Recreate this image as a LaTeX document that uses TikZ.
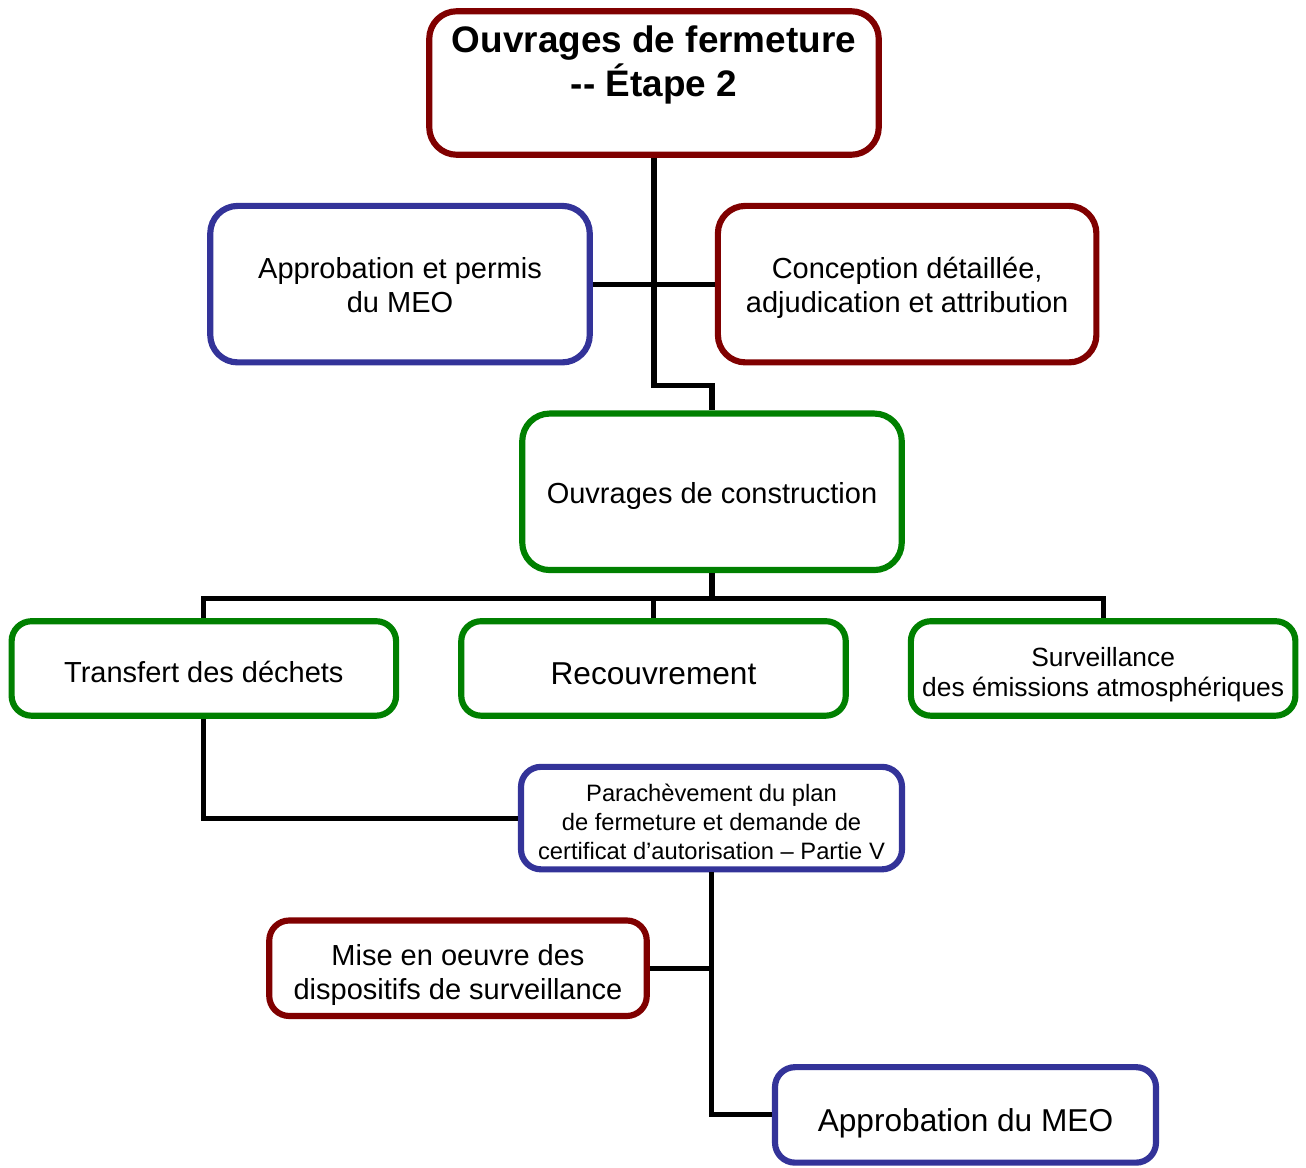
\documentclass[tikz,border=0pt]{standalone}
\usepackage{fontspec}
\setmainfont{Liberation Sans}
\usetikzlibrary{positioning}
\definecolor{darkred}{RGB}{128,0,0}
\definecolor{meoblue}{RGB}{51,51,153}
\definecolor{okgreen}{RGB}{0,128,0}
\tikzset{redbox/.style={rectangle,rounded corners=0.4cm,draw=darkred,fill=white,line width=3.5pt,align=center,execute at begin node=\rule{0pt}{1em}}}
\tikzset{bluebox/.style={rectangle,rounded corners=0.4cm,draw=meoblue,fill=white,line width=3.5pt,align=center,execute at begin node=\rule{0pt}{1em}}}
\tikzset{greenbox/.style={rectangle,rounded corners=0.4cm,draw=okgreen,fill=white,line width=3.5pt,align=center,execute at begin node=\rule{0pt}{1em}}}
\tikzset{link/.style={line width=2.9pt}}

\begin{document}
\begin{tikzpicture}[node distance=0.9cm,font=\fontsize{16.5}{19.3}\selectfont]
\useasboundingbox (0,0) rectangle (26.12,-23.36);
	\node (top) [redbox, execute at begin node=, rounded corners=0.55cm, minimum width=8.99cm, minimum height=2.87cm, font=\bfseries\fontsize{21}{25}\selectfont] at (13.08,-1.66) {Ouvrages de fermeture\\-{}- Étape 2\\\mbox{}};
	\node (appr) [bluebox, rounded corners=0.55cm, minimum width=7.59cm, minimum height=3.13cm, below=of top, xshift=-5.08cm] {\rule{0pt}{0.82em}Approbation et permis\\du MEO};
	\node (concep) [redbox, rounded corners=0.55cm, minimum width=7.57cm, minimum height=3.13cm, right=2.44cm of appr] {\rule{0pt}{1em}Conception détaillée,\\adjudication et attribution} edge [link] (appr);
	\node (constr) [greenbox, rounded corners=0.55cm, minimum width=7.59cm, minimum height=3.13cm, below=of appr, xshift=6.24cm] {Ouvrages de construction};
	\node (recouv) [greenbox, minimum width=7.69cm, minimum height=1.89cm, below=of constr, xshift=-1.17cm, font=\fontsize{18}{21}\selectfont] {Recouvrement};
	\node (transf) [greenbox, minimum width=7.69cm, minimum height=1.89cm, left=1.18cm of recouv] {Transfert des déchets};
	\node (surv) [greenbox, minimum width=7.69cm, minimum height=1.89cm, inner sep=1pt, right=1.18cm of recouv, font=\fontsize{15}{17.5}\selectfont] {\rule{0pt}{1.2em}Surveillance\\des émissions atmosphériques};
	\node (parach) [bluebox, minimum width=7.62cm, minimum height=2.05cm, inner sep=2pt, below=of recouv, xshift=1.16cm, font=\fontsize{13.5}{16.4}\selectfont] {\rule{0pt}{1.08em}Parachèvement du plan\\de fermeture et demande de\\certificat d’autorisation – Partie V};
	\node (mise) [redbox, minimum width=7.55cm, minimum height=1.91cm, below=of parach, xshift=-5.07cm] {\rule{0pt}{1.2em}Mise en oeuvre des\\dispositifs de surveillance};
	\node (apprmeo) [bluebox, execute at begin node=\rule{0pt}{1.25em}, minimum width=7.62cm, minimum height=1.91cm, below=of mise, xshift=10.15cm, font=\fontsize{18}{21}\selectfont] {Approbation du MEO};

	\draw [link] (top.south) -- ++(0,-4.56) -| (constr.north);
	\draw [link] (constr.south) -- ++(0,-0.5) coordinate (bus);
	\draw [link] (transf.north) |- (bus) -| (surv.north);
	\draw [link] (recouv.north) -- (recouv.north |- bus);
	\draw [link] (transf.south) |- (parach.west);
	\draw [link] (parach.south) |- (apprmeo.west);
	\draw [link] (mise.east) -- (mise.east -| parach.south);
\end{tikzpicture}
\end{document}
